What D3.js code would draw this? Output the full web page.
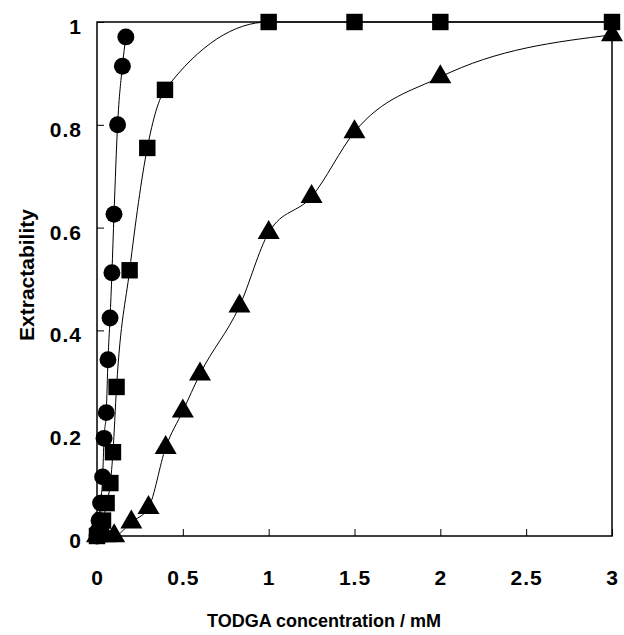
<!DOCTYPE html>
<html>
<head>
<meta charset="utf-8">
<script src="https://cdn.jsdelivr.net/npm/d3@7"></script>
<style>
  body { margin: 0; background: #fff; }
  text { font-family: "Liberation Sans", Arial, sans-serif; font-weight: bold; }
</style>
</head>
<body>
<svg id="chart" width="624" height="635"></svg>
<script>
// values (x = TODGA mM, y = extractability)
var circleX = [0, 0.005, 0.012, 0.021, 0.033, 0.041, 0.054, 0.064, 0.076, 0.087, 0.099, 0.12, 0.148, 0.168];
var circleY = [0, 0.01, 0.03, 0.064, 0.115, 0.19, 0.24, 0.343, 0.424, 0.512, 0.626, 0.80, 0.914, 0.971];

var squareX = [0, 0.02, 0.035, 0.056, 0.078, 0.093, 0.114, 0.19, 0.293, 0.396, 1, 1.5, 2, 3];
var squareY = [0, 0.01, 0.03, 0.064, 0.103, 0.163, 0.29, 0.517, 0.755, 0.868, 1, 1, 1, 1];

var triangleX = [0, 0.05, 0.1, 0.2, 0.3, 0.4, 0.5, 0.6, 0.83, 1, 1.25, 1.5, 2, 3];
var triangleY = [0, 0, 0, 0.027, 0.055, 0.172, 0.243, 0.315, 0.447, 0.59, 0.66, 0.786, 0.893, 0.975];

var xTicks = [0, 0.5, 1, 1.5, 2, 2.5, 3];
var yTicks = [0, 0.2, 0.4, 0.6, 0.8, 1];

var svg = d3.select("#chart");

var pLeft = 97, pRight = 612, pTop = 22, pBottom = 536;

var x = d3.scaleLinear().domain([0, 3]).range([pLeft, pRight]);
var y = d3.scaleLinear().domain([0, 1]).range([pBottom, pTop]);

function zip(xs, ys) {
  return xs.map(function (v, i) { return [v, ys[i]]; });
}

// plot frame
svg.append("rect")
  .attr("x", pLeft).attr("y", pTop)
  .attr("width", pRight - pLeft).attr("height", pBottom - pTop)
  .attr("fill", "none").attr("stroke", "#000").attr("stroke-width", 1.5);

var xAxis = d3.axisBottom(x).tickValues(xTicks).tickSize(-7).tickPadding(34)
  .tickFormat(function (d) { return d; });
var yAxis = d3.axisLeft(y).tickValues(yTicks).tickSize(-7).tickPadding(15)
  .tickFormat(function (d) { return d; });

var gx = svg.append("g").attr("transform", "translate(0," + pBottom + ")").call(xAxis);
var gy = svg.append("g").attr("transform", "translate(" + pLeft + ",0)").call(yAxis);

[gx, gy].forEach(function (g) {
  g.select(".domain").remove();
  g.selectAll(".tick line").attr("stroke", "#000").attr("stroke-width", 1);
  g.selectAll(".tick text")
    .attr("fill", "#000")
    .attr("font-size", 21)
    .attr("letter-spacing", 1)
    .attr("font-family", "Liberation Sans, Arial, sans-serif")
    .attr("font-weight", "bold");
});
gy.selectAll(".tick text").attr("dy", "0.55em");

svg.append("text")
  .attr("x", 324)
  .attr("y", 627)
  .attr("text-anchor", "middle")
  .attr("font-size", 18)
  .text("TODGA concentration / mM");

svg.append("text")
  .attr("transform", "translate(34,275) rotate(-90)")
  .attr("text-anchor", "middle")
  .attr("font-size", 21)
  .text("Extractability");

// monotone keeps the flat top of the square series from overshooting
var line = d3.line()
  .x(function (d) { return x(d[0]); })
  .y(function (d) { return y(d[1]); })
  .curve(d3.curveMonotoneX);

var series = [
  { pts: zip(circleX, circleY), sym: d3.symbolCircle, size: 225 },
  { pts: zip(squareX, squareY), sym: d3.symbolSquare, size: 270 },
  { pts: zip(triangleX, triangleY), sym: d3.symbolTriangle, size: 210 }
];

series.forEach(function (s) {
  svg.append("path")
    .datum(s.pts)
    .attr("d", line)
    .attr("fill", "none")
    .attr("stroke", "#000")
    .attr("stroke-width", 1);
});

series.forEach(function (s) {
  svg.append("g")
    .selectAll("path")
    .data(s.pts)
    .enter()
    .append("path")
    .attr("transform", function (d) { return "translate(" + x(d[0]) + "," + y(d[1]) + ")"; })
    .attr("d", d3.symbol().type(s.sym).size(s.size))
    .attr("fill", "#000");
});
</script>
</body>
</html>
